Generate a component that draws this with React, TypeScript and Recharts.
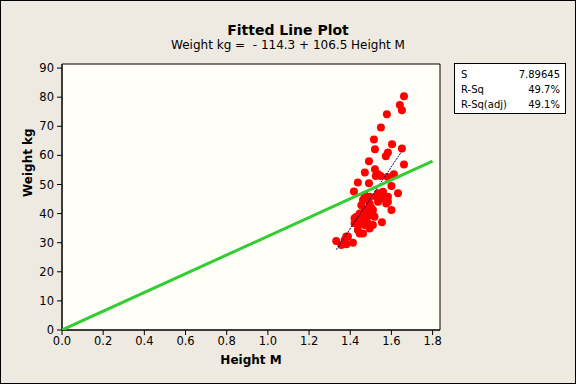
import React from "react";
import { ScatterChart, Scatter, XAxis, YAxis, ReferenceArea } from "recharts";

const heights = [
  1.661, 1.641, 1.651, 1.578, 1.549, 1.515, 1.52, 1.603, 1.651, 1.583, 1.573, 1.491,
  1.661, 1.52, 1.471, 1.535, 1.612, 1.548, 1.582, 1.437, 1.491, 1.6, 1.418, 1.632,
  1.559, 1.583, 1.535, 1.454, 1.6, 1.47, 1.51, 1.421, 1.554, 1.437, 1.47, 1.494,
  1.446, 1.381, 1.413, 1.332, 1.357, 1.381, 1.462, 1.494, 1.527, 1.583, 1.478, 1.51,
  1.43, 1.462, 1.494, 1.518, 1.421, 1.454, 1.486, 1.51, 1.437, 1.462, 1.494, 1.373,
  1.389, 1.47, 1.494, 1.535, 1.559, 1.575, 1.524, 1.446, 1.478, 1.502,
];
const weights = [
  80.3, 77.3, 75.5, 74.1, 69.6, 65.5, 62.1, 63.8, 62.4, 61.0, 59.7, 58.0,
  56.9, 55.2, 54.1, 53.5, 53.5, 52.9, 52.6, 50.7, 50.4, 49.5, 47.6, 47.0,
  47.5, 45.8, 44.1, 42.9, 41.2, 41.2, 39.5, 38.4, 37.0, 36.7, 36.1, 35.5,
  33.2, 32.1, 30.0, 30.6, 29.2, 29.5, 44.7, 43.5, 45.8, 44.1, 41.2, 41.2,
  38.9, 38.9, 39.5, 38.9, 36.7, 36.7, 36.7, 36.1, 34.4, 33.2, 34.9, 30.9,
  32.1, 46.4, 45.8, 47.0, 45.2, 43.5, 52.9, 40.0, 38.0, 42.0,
];

// green line through origin and the fitted regression line
const originLineX = [0, 1.8];
const originLineY = [0, 58.0];
const fitLineX = [1.332, 1.651];
const fitLineY = [27.6, 61.5];

const xTicks = [0, 0.2, 0.4, 0.6, 0.8, 1.0, 1.2, 1.4, 1.6, 1.8];
const yTicks = [0, 10, 20, 30, 40, 50, 60, 70, 80, 90];

const statLabels = ["S", "R-Sq", "R-Sq(adj)"];
const statValues = ["7.89645", "49.7%", "49.1%"];

const points = heights.map((h, i) => ({ x: h, y: weights[i] }));
const originLine = originLineX.map((x, i) => ({ x, y: originLineY[i] }));
const fitLine = fitLineX.map((x, i) => ({ x, y: fitLineY[i] }));

const FONT = "'DejaVu Sans', Verdana, sans-serif";
const X_MAX = 1.836;
const Y_MAX = 91.4;

const Dot = (props: any) => <circle cx={props.cx} cy={props.cy} r={4} fill="#FF0000" />;
const NoDot = () => <g />;

export default function App() {
  const tick = { fontSize: 11.5, fill: "#000", fontFamily: FONT };
  return (
    <div
      style={{
        position: "absolute",
        left: 0,
        top: 0,
        width: 576,
        height: 384,
        boxSizing: "border-box",
        border: "1px solid #000",
        background: "#EEEAE1",
        fontFamily: FONT,
        color: "#000",
      }}
    >
      <div style={{ position: "absolute", left: -1, top: 21, width: 576, textAlign: "center", fontSize: 14, fontWeight: "bold" }}>
        Fitted Line Plot
      </div>
      <div style={{ position: "absolute", left: -1, top: 37, width: 576, textAlign: "center", fontSize: 12 }}>
        Weight kg = &nbsp;- 114.3 + 106.5 Height M
      </div>
      <div style={{ position: "absolute", left: -1, top: -1 }}>
        <ScatterChart width={576} height={384} margin={{ top: 64, right: 136, bottom: 24, left: 22 }}>
          <ReferenceArea x1={0} x2={X_MAX} y1={0} y2={Y_MAX} fill="#FFFFF7" fillOpacity={1} stroke="#000" strokeWidth={1} />
          <XAxis
            type="number"
            dataKey="x"
            domain={[0, X_MAX]}
            ticks={xTicks}
            tickFormatter={(v: number) => v.toFixed(1)}
            tick={tick}
            tickSize={5}
            tickMargin={2}
            height={30}
            stroke="#000"
            allowDataOverflow
            label={{ value: "Height M", position: "insideBottom", offset: -4, fontSize: 12, fontWeight: "bold", fill: "#000", fontFamily: FONT }}
          />
          <YAxis
            type="number"
            dataKey="y"
            domain={[0, Y_MAX]}
            ticks={yTicks}
            tick={tick}
            tickSize={5}
            tickMargin={3}
            width={40}
            stroke="#000"
            allowDataOverflow
            label={{ value: "Weight kg", angle: -90, position: "insideLeft", offset: 6, fontSize: 12, fontWeight: "bold", fill: "#000", fontFamily: FONT }}
          />
          <Scatter data={points} shape={Dot} isAnimationActive={false} />
          <Scatter
            data={fitLine}
            line={{ stroke: "#000080", strokeWidth: 1, strokeDasharray: "2 1" }}
            shape={NoDot}
            isAnimationActive={false}
          />
          <Scatter
            data={originLine}
            line={{ stroke: "#33CC33", strokeWidth: 3 }}
            shape={NoDot}
            isAnimationActive={false}
          />
        </ScatterChart>
      </div>
      <div
        style={{
          position: "absolute",
          left: 453,
          top: 62,
          width: 112,
          height: 51,
          boxSizing: "border-box",
          border: "1px solid #000",
          background: "#FFFFFF",
          fontSize: 10,
          padding: "3px 5px 0 6px",
        }}
      >
        {statLabels.map((l, i) => (
          <div key={l} style={{ display: "flex", justifyContent: "space-between", height: 15, lineHeight: "15px" }}>
            <span>{l}</span>
            <span>{statValues[i]}</span>
          </div>
        ))}
      </div>
    </div>
  );
}
